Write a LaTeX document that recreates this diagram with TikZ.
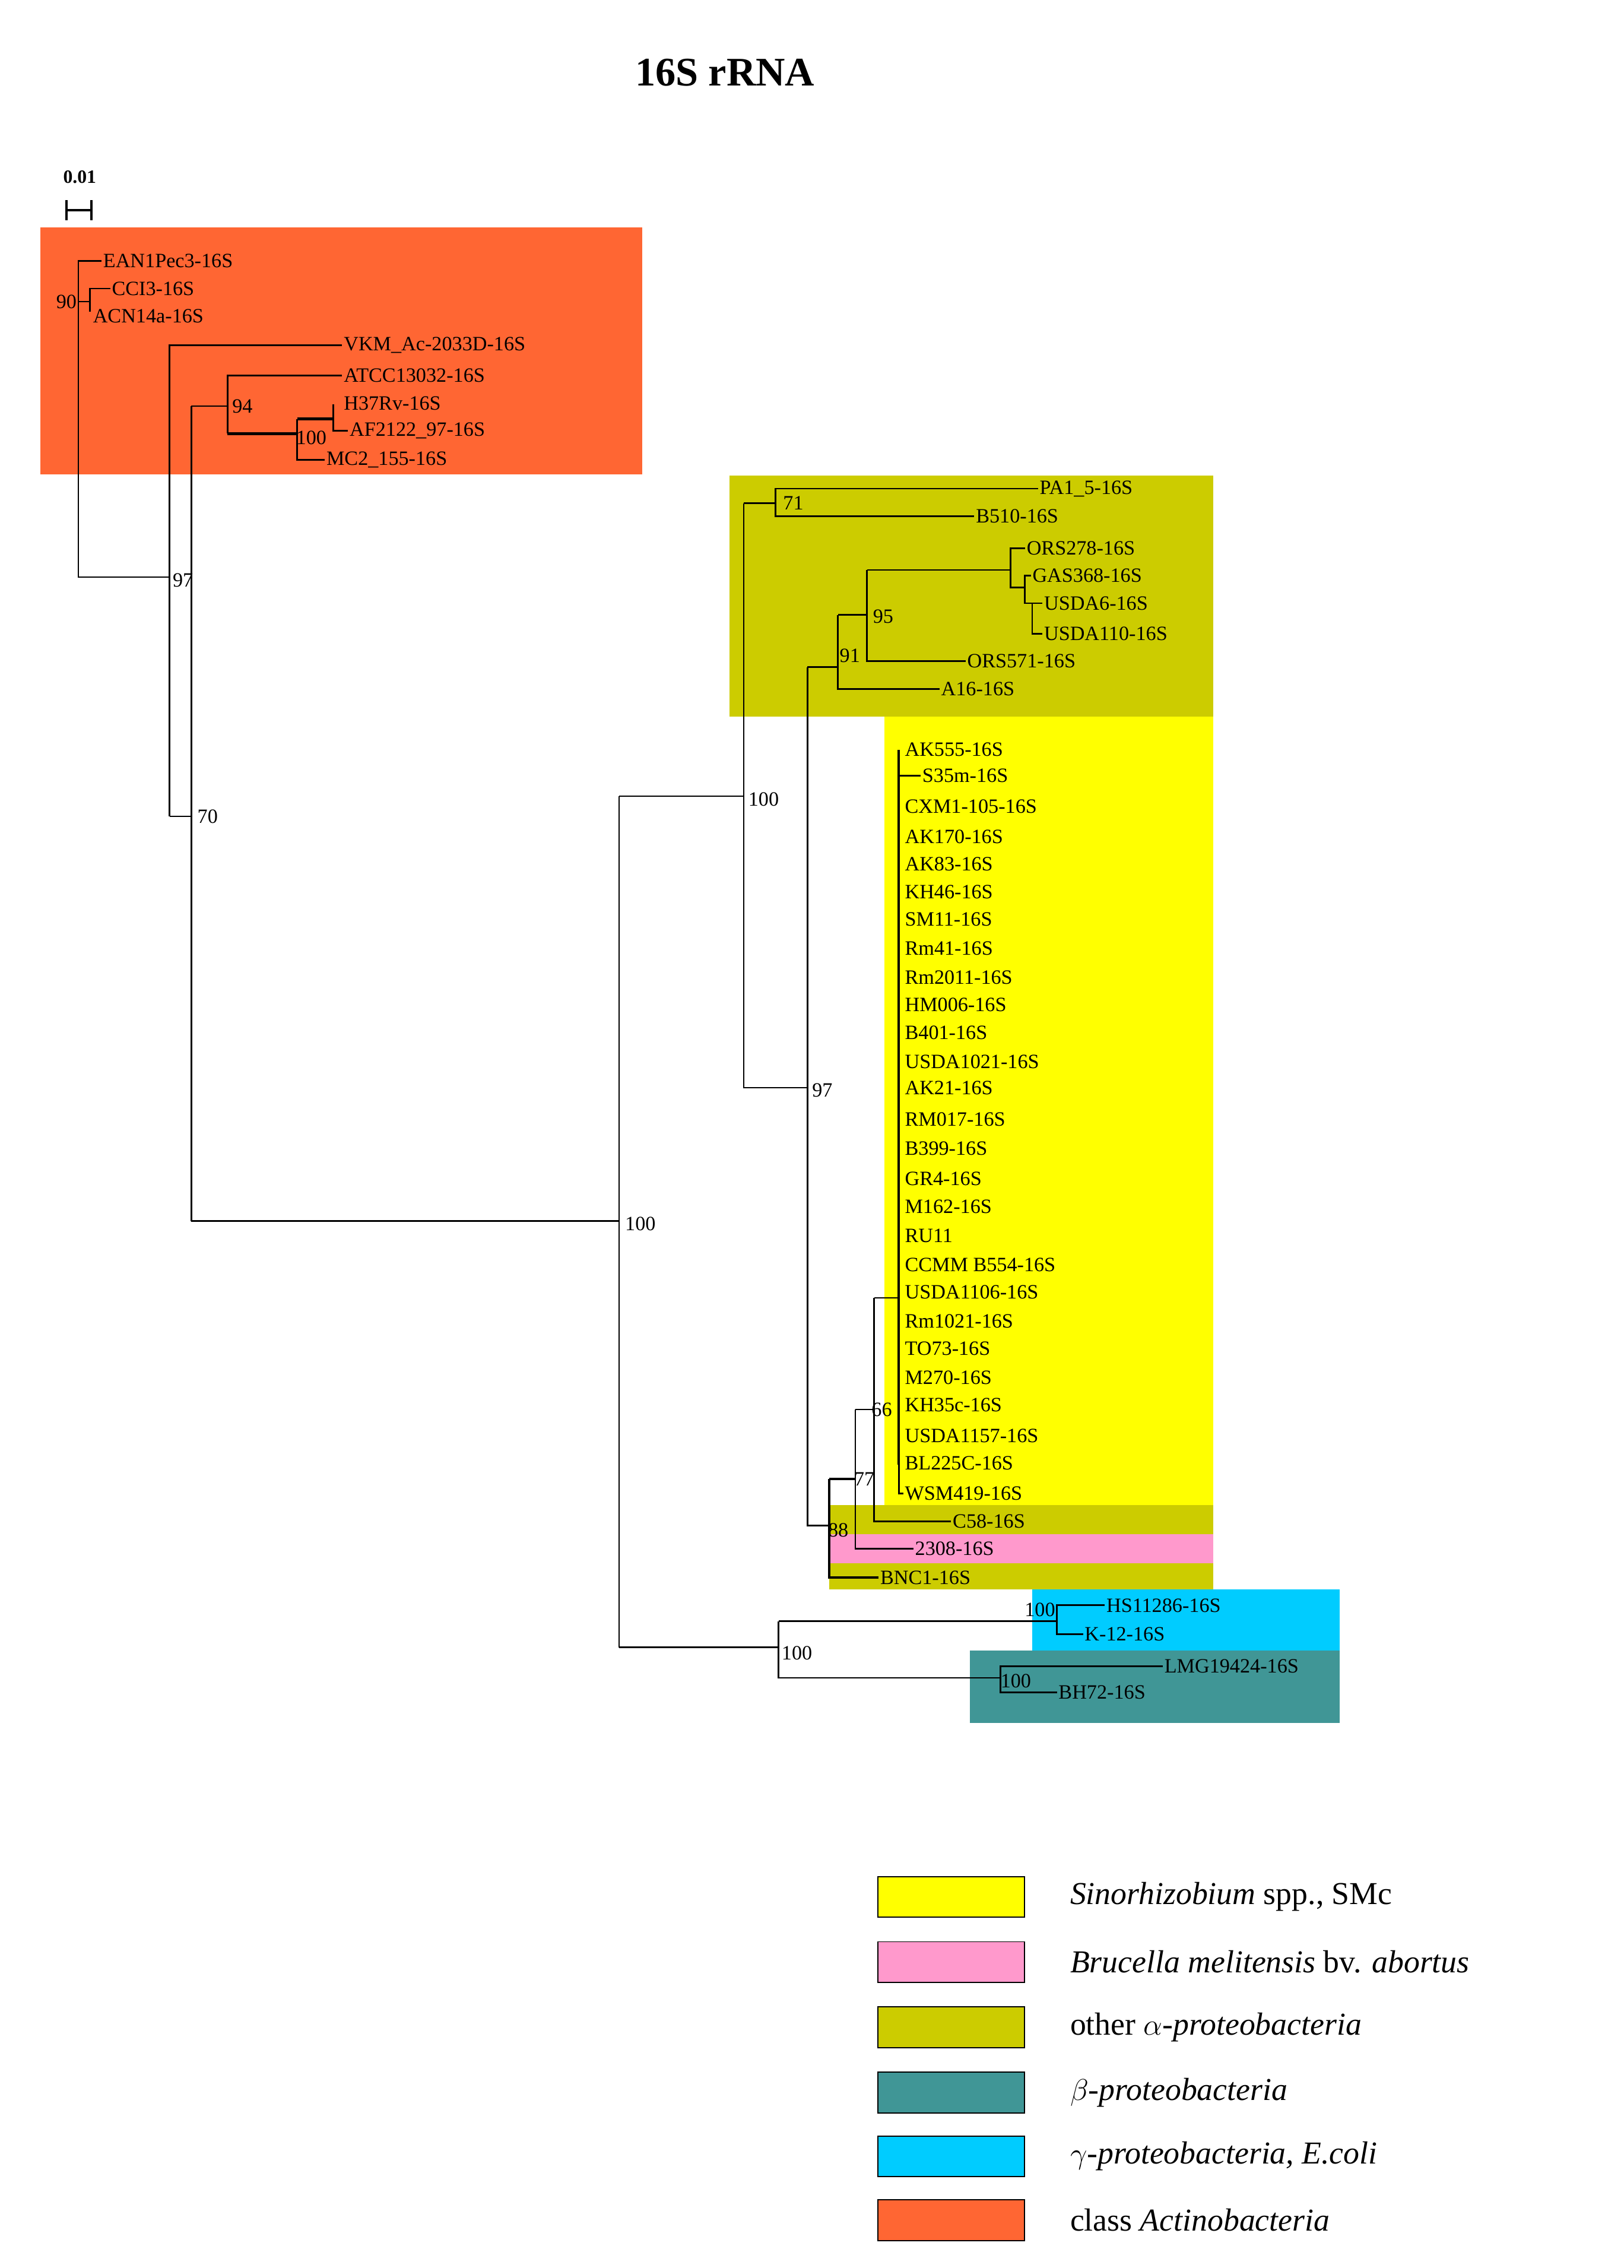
\documentclass[tikz,border=0pt]{standalone}
\usepackage{fontspec}
\setmainfont{Liberation Serif}
\begin{document}
\begin{tikzpicture}[x=1pt,y=-1pt,
  lab/.style={anchor=west,inner sep=1pt,font=\fontsize{14}{16}\selectfont},
  bs/.style={anchor=west,inner sep=1pt,font=\fontsize{14}{16}\selectfont},
  br/.style={line width=1.1pt,black},
  leg/.style={draw=black,line width=0.8pt,minimum width=101pt,minimum height=28pt,inner sep=0pt},
  legt/.style={anchor=west,inner sep=0pt,font=\fontsize{22}{24}\selectfont}]
\definecolor{cyel}{RGB}{255,255,0}
\definecolor{cpink}{RGB}{255,153,204}
\definecolor{coli}{RGB}{204,204,0}
\definecolor{cteal}{RGB}{64,150,150}
\definecolor{ccyan}{RGB}{0,204,255}
\definecolor{corg}{RGB}{255,102,51}
\useasboundingbox (0,0) rectangle (1120,1564);
% boxes
\fill[corg] (28,157) rectangle (443,327);
\fill[coli] (503,328) rectangle (837,494);
\fill[cyel] (610,494) rectangle (837,1038);
\fill[coli] (572,1038) rectangle (837,1058);
\fill[cpink] (572,1058) rectangle (837,1078);
\fill[coli] (572,1078) rectangle (837,1096);
\fill[ccyan] (712,1096) rectangle (924,1138);
\fill[cteal] (669,1138) rectangle (924,1188);
% title & scale
\node[font=\bfseries\fontsize{28}{30}\selectfont] (title) at (500,50) {16S rRNA};
\node[font=\bfseries\fontsize{13}{14}\selectfont] (scl) at (55,122) {0.01};
\draw[line width=1.6pt] (46,138) -- (46,152) (46,145) -- (63,145) (63,138) -- (63,152);
% leaves actino
\node[lab] (ean) at (70,180) {EAN1Pec3-16S};
\node[lab] (cci) at (76,199) {CCI3-16S};
\node[lab] (acn) at (63,218) {ACN14a-16S};
\node[lab] (vkm) at (236,238) {VKM\_Ac-2033D-16S};
\node[lab] (atcc) at (236,259) {ATCC13032-16S};
\node[lab] (h37) at (236,278) {H37Rv-16S};
\node[lab] (af) at (240,297) {AF2122\_97-16S};
\node[lab] (mc2) at (224,317) {MC2\_155-16S};
\draw[br] (ean.west) -- (54,180) -- (54,398) -- (117,398);
\draw[br] (54,208) -- (62,208); \draw[br] (62,215) -- (62,199) -- (cci.west);
\draw[br] (117,563) -- (117,238) -- (vkm.west);
\draw[br] (117,563) -- (132,563); \draw[br] (132,280) -- (132,842);
\draw[br] (132,280) -- (157,280); \draw[br] (atcc.west) -- (157,259) -- (157,299);
\draw[line width=2pt] (157,299) -- (205,299);
\draw[br] (205,289) -- (205,317) -- (mc2.west);
\draw[line width=2pt] (205,289) -- (230,289);
\draw[br] (230,279) -- (230,297) -- (af.west);
\node[bs,anchor=east] (b90) at (54,208) {90};
\node[bs] (b97a) at (118,400) {97};
\node[bs] (b70) at (135,563) {70};
\node[bs] (b94) at (159,280) {94};
\node[bs] (b100a) at (203,302) {100};
% main
\draw[br] (132,842) -- (427,842);
\draw[br] (427,549) -- (427,1136);
\draw[br] (427,549) -- (513,549);
\draw[br] (427,1136) -- (537,1136);
\node[bs] (b100b) at (430,844) {100};
\node[bs] (b100c) at (515,551) {100};
\node[bs] (b100d) at (538,1140) {100};
% alpha
\node[lab] (pa1) at (716,337) {PA1\_5-16S};
\node[lab] (b510) at (672,356) {B510-16S};
\node[lab] (ors278) at (707,378) {ORS278-16S};
\node[lab] (gas) at (711,397) {GAS368-16S};
\node[lab] (usda6) at (719,416) {USDA6-16S};
\node[lab] (usda110) at (719,437) {USDA110-16S};
\node[lab] (ors571) at (666,456) {ORS571-16S};
\node[lab] (a16) at (648,475) {A16-16S};
\draw[br] (513,347) -- (513,750) -- (557,750);
\draw[br] (513,347) -- (535,347);
\draw[br] (pa1.west) -- (535,337) -- (535,356) -- (b510.west);
\node[bs] (b71) at (539,347) {71};
\node[bs] (b97b) at (559,752) {97};
\draw[br] (557,460) -- (557,1052) -- (572,1052);
\draw[br] (557,460) -- (578,460);
\draw[br] (578,424) -- (578,475) -- (a16.west);
\draw[br] (578,424) -- (598,424);
\draw[br] (598,393) -- (598,456) -- (ors571.west);
\draw[br] (598,393) -- (697,393);
\draw[br] (ors278.west) -- (697,378) -- (697,405) -- (707,405);
\draw[br] (gas.west) -- (707,397) -- (707,416) -- (712,416);
\draw[br] (usda6.west) -- (712,416) -- (712,437) -- (usda110.west);
\node[bs] (b91) at (578,452) {91};
\node[bs] (b95) at (601,425) {95};
% yellow clade
\foreach \n/\y/\t in {AK555/517/AK555-16S,CXM/556/CXM1-105-16S,AK170/577/AK170-16S,AK83/596/AK83-16S,KH46/615/KH46-16S,SM11/634/SM11-16S,Rm41/654/Rm41-16S,Rm2011/674/Rm2011-16S,HM006/693/HM006-16S,B401/712/B401-16S,USDA1021/732/USDA1021-16S,AK21/750/AK21-16S,RM017/772/RM017-16S,B399/792/B399-16S,GR4/813/GR4-16S,M162/832/M162-16S,RU11/852/RU11/001-16S,CCMM/872/CCMM B554-16S,USDA1106/891/USDA1106-16S,Rm1021/911/Rm1021-16S,TO73/930/TO73-16S,M270/950/M270-16S,KH35c/969/KH35c-16S,USDA1157/990/USDA1157-16S,BL225C/1009/BL225C-16S,WSM419/1030/WSM419-16S}
  {\node[lab] (\n) at (623,\y) {\t};}
\node[lab] (S35m) at (635,535) {S35m-16S};
\draw[line width=1.6pt] (620,517) -- (620,1010);
\draw[br] (620,1010) -- (620,1030) -- (WSM419.west);
\draw[br] (620,535) -- (S35m.west);
\node[lab] (c58) at (656,1049) {C58-16S};
\node[lab] (s2308) at (630,1068) {2308-16S};
\node[lab] (bnc1) at (606,1088) {BNC1-16S};
\draw[line width=1.6pt] (572,1020) -- (572,1088) -- (bnc1.west);
\draw[line width=1.6pt] (572,1020) -- (590,1020);
\draw[br] (590,972) -- (590,1068) -- (s2308.west);
\draw[br] (590,972) -- (603,972);
\draw[br] (603,895) -- (603,1049) -- (c58.west);
\draw[br] (603,895) -- (620,895);
\node[bs] (b66) at (600,972) {66};
\node[bs] (b77) at (588,1020) {77};
\node[bs] (b88) at (570,1055) {88};
% beta/gamma
\node[lab] (hs) at (762,1107) {HS11286-16S};
\node[lab] (k12) at (747,1127) {K-12-16S};
\node[lab] (lmg) at (802,1149) {LMG19424-16S};
\node[lab] (bh72) at (729,1167) {BH72-16S};
\draw[br] (537,1118) -- (537,1157) -- (690,1157);
\draw[br] (537,1118) -- (729,1118);
\draw[br] (hs.west) -- (729,1107) -- (729,1127) -- (k12.west);
\draw[br] (lmg.west) -- (690,1149) -- (690,1167) -- (bh72.west);
\node[bs,anchor=east] (b100e) at (729,1110) {100};
\node[bs] (b100f) at (689,1159) {100};
% legend
\node[leg,fill=cyel] (l1) at (656,1308) {};
\node[leg,fill=cpink] (l2) at (656,1353) {};
\node[leg,fill=coli] (l3) at (656,1398) {};
\node[leg,fill=cteal] (l4) at (656,1443) {};
\node[leg,fill=ccyan] (l5) at (656,1487) {};
\node[leg,fill=corg] (l6) at (656,1531) {};
\node[legt] (t1) at (738,1308) {\textit{Sinorhizobium} spp., SMc};
\node[legt] (t2) at (738,1353) {\textit{Brucella melitensis} bv. \textit{abortus}};
\node[legt] (t3) at (738,1398) {other \textit{$\alpha$-proteobacteria}};
\node[legt] (t4) at (738,1443) {\textit{$\beta$-proteobacteria}};
\node[legt] (t5) at (738,1487) {\textit{$\gamma$-proteobacteria, E.coli}};
\node[legt] (t6) at (738,1531) {class \textit{Actinobacteria}};
\end{tikzpicture}
\end{document}
